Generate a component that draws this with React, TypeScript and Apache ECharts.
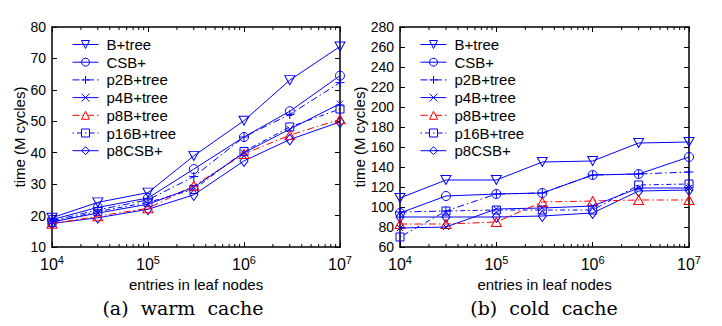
import React, { useEffect, useRef } from "react";
import * as echarts from "echarts";

const xValues = [1e4, 3e4, 1e5, 3e5, 1e6, 3e6, 1e7];
const seriesNames = ["B+tree", "CSB+", "p2B+tree", "p4B+tree", "p8B+tree", "p16B+tree", "p8CSB+"];

const warmBtree = [19.3, 24.2, 27.3, 39.0, 50.2, 63.1, 73.8];
const warmCSB = [18.7, 22.6, 25.6, 34.8, 45.0, 53.2, 64.5];
const warmP2B = [18.3, 21.8, 25.0, 32.4, 45.0, 52.2, 62.3];
const warmP4B = [18.0, 20.8, 23.6, 29.0, 40.0, 47.5, 55.6];
const warmP8B = [17.4, 19.8, 22.3, 29.5, 39.6, 45.6, 50.6];
const warmP16B = [17.8, 21.3, 24.2, 28.3, 40.4, 48.2, 53.9];
const warmP8CSB = [17.5, 19.3, 22.0, 26.6, 37.4, 44.2, 49.8];

const coldBtree = [109, 127, 127, 145, 146, 164, 165];
const coldCSB = [94, 111, 113, 114, 132, 133, 150];
const coldP2B = [95, 96, 113, 114, 132, 133, 135];
const coldP4B = [79, 80, 98, 99, 101, 119, 119];
const coldP8B = [83, 83, 85, 105, 106, 107, 107];
const coldP16B = [70, 96, 97, 97, 97, 122, 123];
const coldP8CSB = [90, 90, 90, 91, 94, 116, 117];

const warmTicks = { min: 10, max: 80, interval: 10 };
const coldTicks = { min: 60, max: 280, interval: 20 };

const BLUE = "#0000ff";
const RED = "#ff0000";
const SANS = "Liberation Sans, Arial, Helvetica, sans-serif";
const SERIF = "DejaVu Serif, serif";

const styles = [
  { symbol: "path://M0,0 L10,0 L5,8.66 Z", size: [10, 9], color: BLUE, dash: "solid" as any },
  { symbol: "circle", size: 9, color: BLUE, dash: "solid" as any },
  { symbol: "path://M5,0 L5,10 M0,5 L10,5", size: 9, color: BLUE, dash: [7, 3, 1.5, 3] },
  { symbol: "path://M0,0 L10,10 M10,0 L0,10", size: 6, color: BLUE, dash: "solid" as any },
  { symbol: "triangle", size: [10, 9], color: RED, dash: [7, 3, 1.5, 3] },
  { symbol: "rect", size: 8, color: BLUE, dash: [1.5, 3, 5, 3] },
  { symbol: "diamond", size: [8, 11], color: BLUE, dash: "solid" as any },
];

const warmData = [warmBtree, warmCSB, warmP2B, warmP4B, warmP8B, warmP16B, warmP8CSB];
const coldData = [coldBtree, coldCSB, coldP2B, coldP4B, coldP8B, coldP16B, coldP8CSB];

function makeSeries(data: number[][], axisIndex: number) {
  return data.map((vals, i) => {
    const s = styles[i];
    return {
      name: seriesNames[i],
      type: "line",
      xAxisIndex: axisIndex * 2,
      yAxisIndex: axisIndex * 2,
      data: vals.map((v, k) => [xValues[k], v]),
      symbol: s.symbol,
      symbolSize: s.size,
      showAllSymbol: true,
      lineStyle: { color: s.color, width: 1, type: s.dash },
      itemStyle: { color: "rgba(0,0,0,0)", borderColor: s.color, borderWidth: 1 },
      emphasis: { disabled: true },
      z: 10 - i,
    };
  });
}

function xAxes(gridIndex: number) {
  const common = {
    type: "log",
    logBase: 10,
    min: 1e4,
    max: 1e7,
    gridIndex,
    axisLine: { show: true, onZero: false, lineStyle: { color: "#000", width: 1.5 } },
    axisTick: { show: true, inside: true, length: 5, lineStyle: { color: "#000", width: 1 } },
    splitLine: { show: false },
  };
  return [
    {
      ...common,
      position: "bottom",
      name: "entries in leaf nodes",
      nameLocation: "middle",
      nameGap: 27,
      nameTextStyle: { fontFamily: SANS, fontSize: 15, color: "#000" },
      axisLabel: {
        margin: 7,
        formatter: (v: number) => "{b|10}{e|" + Math.round(Math.log10(v)) + "}",
        rich: {
          b: { fontFamily: SANS, fontSize: 16, color: "#000", lineHeight: 18, verticalAlign: "bottom" },
          e: { fontFamily: SANS, fontSize: 11, color: "#000", lineHeight: 18, verticalAlign: "top" },
        },
      },
    },
    { ...common, position: "top", axisLabel: { show: false } },
  ];
}

function yAxes(gridIndex: number, t: { min: number; max: number; interval: number }, nameGap: number) {
  const common = {
    type: "value",
    gridIndex,
    min: t.min,
    max: t.max,
    interval: t.interval,
    axisLine: { show: true, onZero: false, lineStyle: { color: "#000", width: 1.5 } },
    axisTick: { show: true, inside: true, length: 5, lineStyle: { color: "#000", width: 1 } },
    splitLine: { show: false },
  };
  return [
    {
      ...common,
      position: "left",
      name: "time (M cycles)",
      nameLocation: "middle",
      nameGap,
      nameRotate: 90,
      nameTextStyle: { fontFamily: SANS, fontSize: 15, color: "#000" },
      axisLabel: { fontFamily: SANS, fontSize: 14, color: "#000", margin: 6 },
    },
    { ...common, position: "right", axisLabel: { show: false } },
  ];
}

function legend(left: number) {
  return {
    show: true,
    orient: "vertical",
    left,
    top: 37,
    itemWidth: 26,
    itemHeight: 10,
    itemGap: 2.7,
    padding: 0,
    textStyle: { fontFamily: SANS, fontSize: 15, color: "#000", lineHeight: 14, padding: [0, 0, 0, 3] },
    itemStyle: { color: "rgba(0,0,0,0)", borderWidth: 1 },
    lineStyle: { width: 1 },
    data: seriesNames,
    selectedMode: false,
  };
}

export default function App() {
  const ref = useRef<HTMLDivElement>(null);
  useEffect(() => {
    if (!ref.current) return;
    const chart = echarts.init(ref.current, undefined, { renderer: "svg" });
    const option: any = {
      animation: false,
      backgroundColor: "#fff",
      grid: [
        { left: 52, top: 27, width: 288, height: 220 },
        { left: 400, top: 27, width: 289, height: 220 },
      ],
      xAxis: [...xAxes(0), ...xAxes(1)],
      yAxis: [...yAxes(0, warmTicks, 24), ...yAxes(1, coldTicks, 33)],
      legend: [legend(72), legend(420)],
      series: [...makeSeries(warmData, 0), ...makeSeries(coldData, 1)],
    };
    chart.setOption(option);

    // minor ticks at 2..9 x 10^k on log x-axes, plus captions
    const graphics: any[] = [];
    [0, 1].forEach((g) => {
      const yBottom = chart.convertToPixel({ yAxisIndex: g * 2 }, g === 0 ? warmTicks.min : coldTicks.min) as number;
      const yTop = chart.convertToPixel({ yAxisIndex: g * 2 }, g === 0 ? warmTicks.max : coldTicks.max) as number;
      for (let p = 4; p < 7; p++) {
        for (let m = 2; m <= 9; m++) {
          const x = chart.convertToPixel({ xAxisIndex: g * 2 }, m * Math.pow(10, p)) as number;
          graphics.push({
            type: "line",
            shape: { x1: x, y1: yBottom, x2: x, y2: yBottom - 3 },
            style: { stroke: "#000", lineWidth: 1 },
            silent: true,
          });
          graphics.push({
            type: "line",
            shape: { x1: x, y1: yTop, x2: x, y2: yTop + 3 },
            style: { stroke: "#000", lineWidth: 1 },
            silent: true,
          });
        }
      }
    });
    graphics.push({
      type: "text",
      x: 183,
      y: 308,
      style: { text: "(a)  warm  cache", fontFamily: SERIF, fontSize: 19, fill: "#000", textAlign: "center", textVerticalAlign: "middle" },
    });
    graphics.push({
      type: "text",
      x: 544,
      y: 308,
      style: { text: "(b)  cold  cache", fontFamily: SERIF, fontSize: 19, fill: "#000", textAlign: "center", textVerticalAlign: "middle" },
    });
    chart.setOption({ graphic: graphics });

    return () => chart.dispose();
  }, []);
  return (
    <div
      ref={ref}
      style={{ position: "fixed", left: 0, top: 0, width: 722, height: 326, background: "#fff" }}
    />
  );
}
